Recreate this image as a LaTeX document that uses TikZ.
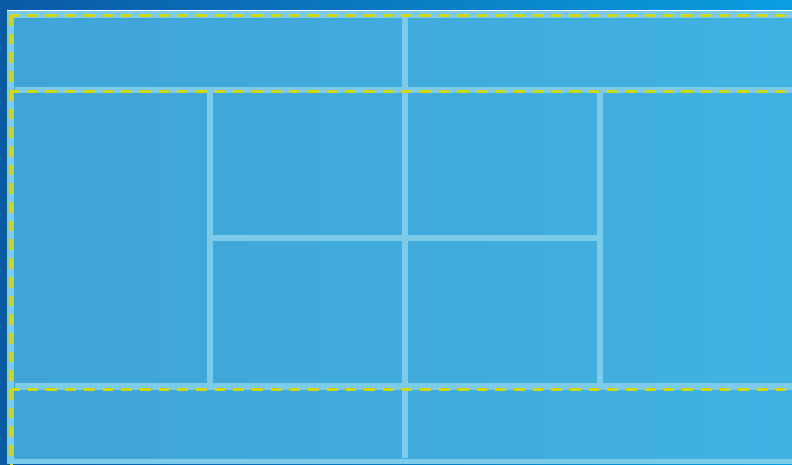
\documentclass[tikz,border=0pt]{standalone}
\usepackage{xcolor}
\usepackage{tikz}

\definecolor{skydark}{HTML}{0A5AA4}
\definecolor{skylight}{HTML}{0A9EE0}
\definecolor{courtleft}{HTML}{40A4D6}
\definecolor{courtright}{HTML}{40B2E2}
\definecolor{courtline}{HTML}{7DCBEA}
\definecolor{alleyyellow}{HTML}{D2D80C}

\begin{document}
\begin{tikzpicture}[
    x=1pt, y=-1pt,
    line/.style={courtline, line width=6.5pt},
    alley/.style={alleyyellow, line width=3pt, dash pattern=on 10.7pt off 8pt}
]
\useasboundingbox (0,0) rectangle (792,464);

% backdrop and court surface
\shade[left color=skydark, right color=skylight] (0,0) rectangle (792,464);
\fill[courtline] (6.5,11) rectangle (792,464);
\shade[left color=courtleft, right color=courtright] (14.5,18.3) rectangle (792,458);
\draw[white, line width=1.3pt] (6.5,10.4) -- (792,10.4);

% court lines
\draw[line] (14.5,90) -- (792,90);
\draw[line] (14.5,386.5) -- (792,386.5);
\draw[line] (405,18) -- (405,458);
\draw[line] (210,93) -- (210,383);
\draw[line] (600,93) -- (600,383);
\draw[line] (213,238) -- (597,238);

% dashed alley markings
\draw[alley, dash phase=2pt] (11,15.5) -- (792,15.5);
\draw[alley, dash phase=2pt] (11,91.8) -- (792,91.8);
\draw[alley, dash phase=2pt] (11,389.5) -- (792,389.5);
\draw[alley] (11,15) -- (11,464);
\end{tikzpicture}
\end{document}
